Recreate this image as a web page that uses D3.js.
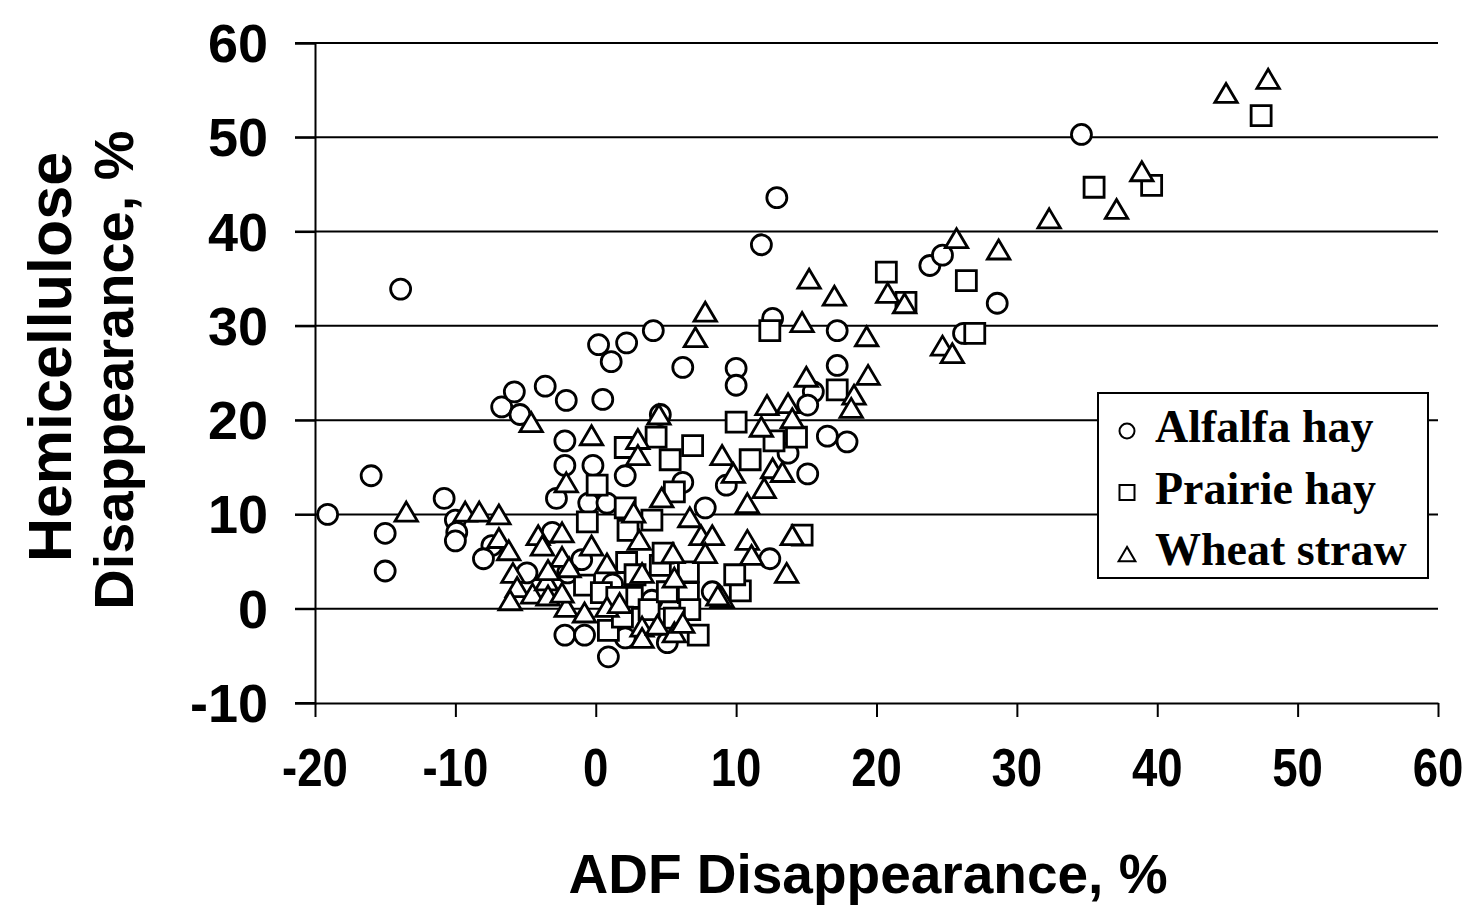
<!DOCTYPE html>
<html>
<head>
<meta charset="utf-8">
<script src="https://cdn.jsdelivr.net/npm/d3@7"></script>
<style>
  body { margin: 0; background: #fff; }
  svg { display: block; }
</style>
</head>
<body>
<div id="chart"></div>
<script>
// values: [ADF disappearance, hemicellulose disappearance]
var alfalfa = [
	[-19.1,10.0],[-16.0,14.1],[-15.0,8.0],[-15.0,4.0],[-13.9,33.9],[-10.8,11.7],[-10.0,9.4],[-9.9,8.1],
	[-10.0,7.2],[-7.4,6.7],[-8.0,5.3],[-4.9,3.8],[-6.7,21.4],[-5.8,23.0],[-5.4,20.6],[-3.6,23.6],
	[-2.1,22.1],[-2.2,17.8],[-2.2,15.2],[-2.8,11.7],[-3.1,8.1],[0.2,28.0],[1.1,26.2],[2.2,28.2],
	[4.1,29.5],[6.2,25.6],[10.0,25.5],[10.0,23.7],[0.5,22.2],[-0.2,15.2],[2.1,14.1],[-0.5,11.2],
	[0.8,11.2],[6.2,13.4],[7.8,10.7],[4.6,20.6],[9.3,13.1],[-2.2,-2.8],[-0.8,-2.8],[0.9,-5.1],
	[8.3,1.8],[2.1,-3.1],[5.1,-3.6],[34.6,50.3],[12.9,43.6],[11.8,38.6],[23.8,36.4],[24.7,37.5],
	[12.6,30.8],[17.2,29.5],[28.6,32.4],[17.2,25.8],[26.2,29.2],[15.5,23.0],[15.1,21.6],[16.5,18.3],
	[17.9,17.7],[13.7,16.5],[15.1,14.3],[12.4,5.3],[-1.0,5.2],[-2.0,3.8],[1.2,2.6],[4.0,0.9]
];

var prairie = [
	[47.4,52.3],[35.5,44.7],[39.6,44.9],[20.7,35.7],[22.1,32.5],[26.4,34.8],[27.0,29.2],[12.4,29.5],
	[17.2,23.2],[10.0,19.8],[12.7,17.8],[14.3,18.2],[11.0,15.8],[14.7,7.8],[10.3,1.9],[9.9,3.6],
	[4.3,18.2],[6.9,17.3],[2.1,17.1],[5.3,15.8],[0.1,13.1],[5.6,12.4],[2.1,10.7],[4.0,9.4],
	[-0.6,9.2],[2.3,8.3],[-0.8,2.5],[2.6,1.2],[0.9,-2.3],[6.6,1.7],[3.8,-0.1],[6.7,-0.1],
	[7.3,-2.8],[4.6,4.6],[2.2,4.9],[0.4,1.7],[6.6,3.9],[5.1,1.8],[4.8,5.9],[1.5,1.2],[2.8,3.6],
	[1.9,-0.9],[5.6,-1.0]
];

var wheat = [
	[44.9,54.7],[47.9,56.2],[38.9,46.4],[37.1,42.4],[32.3,41.4],[25.7,39.3],[28.7,38.1],[20.8,33.5],
	[22.0,32.4],[24.7,27.9],[25.4,27.1],[15.2,35.0],[17.0,33.2],[14.7,30.4],[19.3,28.9],[7.8,31.5],
	[7.1,28.8],[15.0,24.6],[19.4,24.8],[18.4,22.7],[18.2,21.3],[12.2,21.6],[13.7,21.8],[14.0,20.2],
	[11.8,19.3],[9.0,16.3],[9.8,14.4],[12.6,14.9],[13.3,14.5],[12.0,12.8],[10.8,11.2],[14.0,7.8],
	[10.8,7.3],[11.1,5.7],[13.6,3.8],[9.0,1.2],[4.5,20.6],[-0.3,18.4],[3.0,18.0],[3.0,16.3],
	[-2.1,13.4],[4.7,11.8],[2.7,10.2],[6.7,9.7],[-2.4,8.1],[-0.3,6.7],[3.1,7.3],[7.5,7.8],
	[8.3,7.8],[5.5,5.9],[7.8,5.9],[-2.4,5.5],[0.8,4.8],[-13.5,10.3],[-9.3,10.3],[-8.3,10.3],
	[-6.9,10.0],[-6.9,7.5],[-6.2,6.2],[-4.1,7.8],[-3.8,6.7],[-5.9,3.8],[-5.6,2.3],[-6.1,0.9],
	[-4.5,1.6],[-3.5,3.0],[-4.6,19.8],[-3.4,1.4],[-2.1,0.2],[-0.8,-0.4],[0.8,0.2],[1.7,0.6],
	[3.3,3.8],[5.6,3.3],[8.7,1.4],[3.3,-1.9],[3.3,-3.1],[4.4,-1.7],[5.6,-2.5],[6.2,-1.5],
	[-1.9,4.4],[-2.4,1.7],[-3.4,4.1]
];

var seriesNames = ["Alfalfa hay", "Prairie hay", "Wheat straw"];
var seriesShapes = ["circle", "square", "triangle"];
var xTicks = [-20, -10, 0, 10, 20, 30, 40, 50, 60];
var yTicks = [-10, 0, 10, 20, 30, 40, 50, 60];
var xTitle = "ADF Disappearance, %";
var yTitle = ["Hemicellulose", "Disappearance, %"];

var width = 1477, height = 909;
var svg = d3.select("#chart").append("svg").attr("width", width).attr("height", height);

var x = d3.scaleLinear().domain([-20, 60]).range([315, 1438]);
var y = d3.scaleLinear().domain([-10, 60]).range([703, 43]);

// marker path for a shape, sized in px
function shapePath(shape, s) {
	if (shape === "circle") {
		return d3.symbol(d3.symbolCircle, Math.PI * s * s / 4)();
	}
	if (shape === "square") {
		return `M${ -s/2 },${ -s/2 }h${ s }v${ s }h${ -s }Z`;
	}
	var w = s * 1.12, h = s * 0.95;
	return `M0,${ -h/2 }L${ w/2 },${ h/2 }L${ -w/2 },${ h/2 }Z`;
}

// gridlines (they run out past the axis as the y ticks)
svg.append("g").selectAll("line")
	.data(yTicks.filter(d => d > -10))
	.enter().append("line")
	.attr("x1", 295).attr("x2", x(60))
	.attr("y1", d => y(d)).attr("y2", d => y(d))
	.style("stroke", "#000").style("stroke-width", "2px");

// y axis
var yAxis = d3.axisLeft(y).tickValues(yTicks).tickSize(20).tickFormat("");
svg.append("g").attr("transform", `translate(${ x(-20) },0)`).call(yAxis)
	.call(g => g.selectAll("path, line").style("stroke", "#000").style("stroke-width", "2px"));

// x axis
var xAxis = d3.axisBottom(x).tickValues(xTicks).tickSize(14).tickSizeOuter(0).tickFormat("");
svg.append("g").attr("transform", `translate(0,${ y(-10) })`).call(xAxis)
	.call(g => g.selectAll("path, line").style("stroke", "#000").style("stroke-width", "2px"));
svg.append("line").attr("x1", 295).attr("x2", x(-20)).attr("y1", y(-10)).attr("y2", y(-10))
	.style("stroke", "#000").style("stroke-width", "2px");

// tick labels
svg.append("g").selectAll("text")
	.data(yTicks)
	.enter().append("text")
	.attr("x", 268).attr("y", d => y(d) + 19)
	.text(d => d)
	.style("font-family", "'Liberation Sans', Arial, sans-serif")
	.style("font-weight", 700).style("font-size", "54px")
	.style("text-anchor", "end");

svg.append("g").selectAll("text")
	.data(xTicks)
	.enter().append("text")
	.attr("transform", d => `translate(${ x(d) },786) scale(0.86,1)`)
	.text(d => d)
	.style("font-family", "'Liberation Sans', Arial, sans-serif")
	.style("font-weight", 700).style("font-size", "53px")
	.style("text-anchor", "middle");

// axis titles
svg.append("text").attr("x", 868).attr("y", 893).text(xTitle)
	.style("font-family", "'Liberation Sans', Arial, sans-serif")
	.style("font-weight", 700).style("font-size", "55px")
	.style("text-anchor", "middle");

svg.append("text").attr("transform", "translate(71,357) rotate(-90)").text(yTitle[0])
	.style("font-family", "'Liberation Sans', Arial, sans-serif")
	.style("font-weight", 700).style("font-size", "61px")
	.style("text-anchor", "middle");
svg.append("text").attr("transform", "translate(133,370) rotate(-90)").text(yTitle[1])
	.style("font-family", "'Liberation Sans', Arial, sans-serif")
	.style("font-weight", 700).style("font-size", "56px")
	.style("text-anchor", "middle");

// points
[alfalfa, prairie, wheat].forEach((data, i) => {
	svg.append("g").selectAll("path")
		.data(data)
		.enter().append("path")
		.attr("transform", d => `translate(${ x(d[0]) },${ y(d[1]) })`)
		.attr("d", shapePath(seriesShapes[i], 20))
		.style("fill", "#fff").style("stroke", "#000").style("stroke-width", "2.8px");
});

// legend
var legend = svg.append("g").attr("transform", "translate(1098,393)");
legend.append("rect").attr("width", 330).attr("height", 185)
	.style("fill", "#fff").style("stroke", "#000").style("stroke-width", "2px");

var items = legend.selectAll(".item")
	.data(seriesNames)
	.enter().append("g")
	.attr("transform", (d, i) => `translate(0,${ 49 + i * 61.5 })`);

items.append("path")
	.attr("transform", "translate(29,-11)")
	.attr("d", (d, i) => shapePath(seriesShapes[i], 15))
	.style("fill", "#fff").style("stroke", "#000").style("stroke-width", "2px");

items.append("text").attr("x", 57).attr("y", 0).text(d => d)
	.style("font-family", "'Liberation Serif', 'Times New Roman', serif")
	.style("font-weight", 700).style("font-size", "46px");
</script>
</body>
</html>
